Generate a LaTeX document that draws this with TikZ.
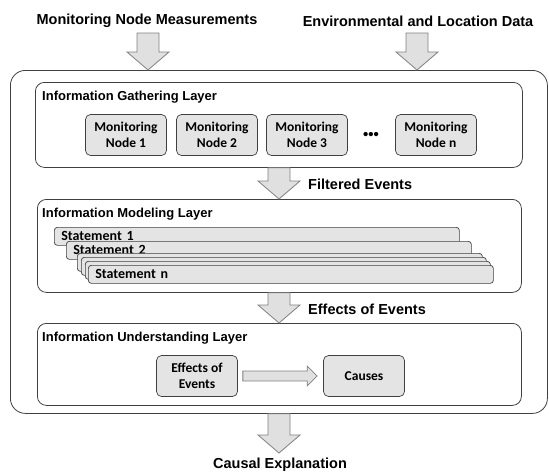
\documentclass[tikz,border=0pt]{standalone}
\usepackage{fontspec}
\usepackage{tikz}
\usetikzlibrary{positioning,calc}
\newfontfamily\headfont{Liberation Sans}
\newfontfamily\boxfont{Carlito}
\definecolor{boxgray}{HTML}{E4E4E4}
\definecolor{arrowgray}{HTML}{E0E0E0}
\definecolor{linegray}{HTML}{404040}

% block arrow pointing down, from (#1) to its tip (#2)
\newcommand{\fatdown}[2]{%
	\draw[fatarrow] let \p1=(#1), \p2=(#2) in
		(\x1-11pt,\y1) -- (\x1+11pt,\y1) -- (\x1+11pt,\y2+18pt) -- (\x1+21pt,\y2+18pt)
		-- (\x2,\y2) -- (\x1-21pt,\y2+18pt) -- (\x1-11pt,\y2+18pt) -- cycle;}
% block arrow pointing right, from (#1) to its tip (#2)
\newcommand{\fatright}[2]{%
	\draw[fatarrow] let \p1=(#1), \p2=(#2) in
		(\x1,\y1+5pt) -- (\x2-10pt,\y1+5pt) -- (\x2-10pt,\y1+10pt) -- (\x2,\y1)
		-- (\x2-10pt,\y1-10pt) -- (\x2-10pt,\y1-5pt) -- (\x1,\y1-5pt) -- cycle;}

\begin{document}
\begin{tikzpicture}[x=1pt,y=-1pt,
		heading/.style={font=\headfont\bfseries\fontsize{14.5}{17}\selectfont, inner sep=0},
		layertitle/.style={font=\headfont\bfseries\fontsize{13}{15}\selectfont, anchor=west, inner sep=0},
		layerbox/.style={draw=linegray, line width=0.8pt, rounded corners=9pt, anchor=north west},
		unitbox/.style={draw=linegray, fill=boxgray, line width=0.7pt, rounded corners=5pt, minimum width=81pt, minimum height=41pt, inner sep=0, align=center, font=\boxfont\bfseries\fontsize{13.5}{16}\selectfont},
		stmt/.style={draw=linegray, fill=boxgray, line width=0.7pt, rounded corners=3pt, anchor=north west, minimum height=18pt, text width=391pt, inner xsep=7pt, inner ysep=0, font=\boxfont\bfseries\fontsize{14}{15}\selectfont},
		fatarrow/.style={draw=gray, fill=arrowgray, line width=0.8pt}]
		\useasboundingbox (0,0) rectangle (549,475);
		%\draw[thin, gray!25] (0,0) grid[step=50] (549,475);
		\node[heading] (meas) at (147,21) {Monitoring Node Measurements};
		\node[heading] (envdata) at (418,21) {Environmental and Location Data};
		\node[draw=linegray, line width=0.8pt, rounded corners=15pt, anchor=north west, minimum width=537pt, minimum height=343pt] (outer) at (10,70) {};
		\coordinate (in1) at (148,33);
		\coordinate (in2) at (417,33);
		\fatdown{in1}{in1 |- outer.north}
		\fatdown{in2}{in2 |- outer.north}
		% gathering
		\node[layerbox, minimum width=487pt, minimum height=85pt] (gather) at (35,82) {};
		\node[layertitle] (gathertitle) at (42,97) {Information Gathering Layer};
		\node[unitbox] (node1) at (126,135) {Monitoring\\Node 1};
		\node[unitbox] (node2) at (217,135) {Monitoring\\Node 2};
		\node[unitbox] (node3) at (307,135) {Monitoring\\Node 3};
		\node[font=\headfont\bfseries\fontsize{15}{15}\selectfont, inner sep=0] (dots) at (371,136) {\textbullet\textbullet\textbullet};
		\node[unitbox] (noden) at (436,135) {Monitoring\\Node n};
		% modeling
		\node[layerbox, minimum width=484pt, minimum height=93pt] (model) at (37,199) {};
		\node[layertitle] (modeltitle) at (42,214) {Information Modeling Layer};
		\node[stmt] (st1) at (54,227) {Statement 1};
		\node[stmt] (st2) at (66,241) {Statement 2};
		\node[stmt] (st3) at (77,253) {};
		\node[stmt] (st4) at (81,257) {};
		\node[stmt] (st5) at (85,261) {};
		\node[stmt] (stn) at (88,265) {Statement n};
		% understanding
		\node[layerbox, minimum width=484pt, minimum height=82pt] (under) at (37,323) {};
		\node[layertitle] (undertitle) at (42,338) {Information Understanding Layer};
		\node[unitbox] (effects) at (197,376) {Effects of\\Events};
		\node[unitbox] (causes) at (364,376) {Causes};
		\fatright{$(effects.east)+(5,0)$}{$(causes.west)+(-6,0)$}
		% flow between layers
		\coordinate (mid1) at (279,0);
		\fatdown{mid1 |- gather.south}{mid1 |- model.north}
		\node[heading, anchor=west] (filtered) at (308,184) {Filtered Events};
		\fatdown{mid1 |- model.south}{mid1 |- under.north}
		\node[heading, anchor=west] (effectlabel) at (308,309) {Effects of Events};
		\coordinate (out) at (279,453);
		\fatdown{mid1 |- outer.south}{out}
		\node[heading] (causal) at (280,465) {Causal Explanation};
	\end{tikzpicture}
\end{document}
